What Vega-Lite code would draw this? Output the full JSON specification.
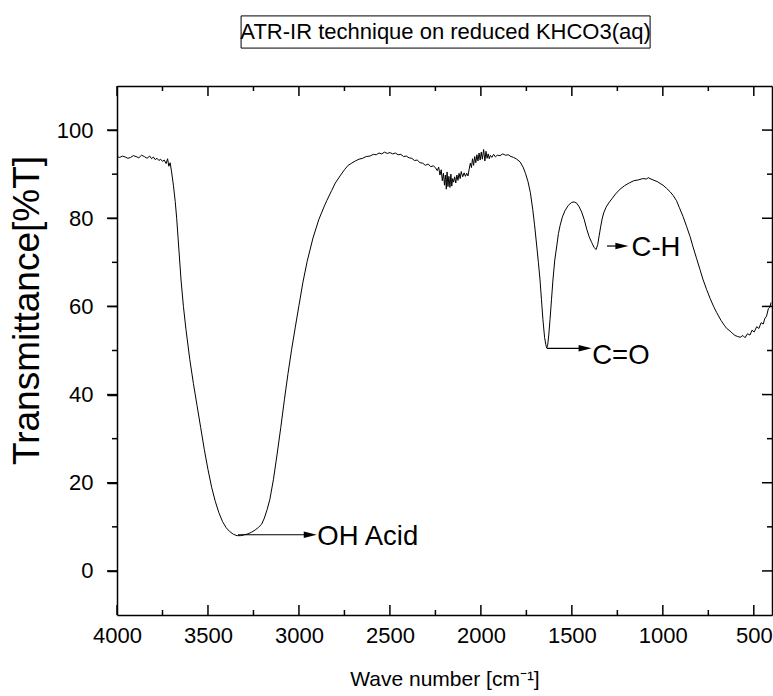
{
  "$schema": "https://vega.github.io/schema/vega-lite/v6.json",
  "width": 655,
  "height": 529,
  "autosize": {"type": "none"},
  "padding": {"left": 117, "top": 86, "right": 1, "bottom": 81},
  "background": "white",
  "config": {
    "font": "Liberation Sans",
    "view": {"stroke": null},
    "axis": {
      "grid": false,
      "domainColor": "black",
      "domainWidth": 1.5,
      "tickColor": "black",
      "tickWidth": 1.5,
      "labelColor": "black",
      "titleColor": "black",
      "titleFontWeight": "normal",
      "labelFont": "Liberation Sans",
      "titleFont": "Liberation Sans",
      "labelFlush": false,
      "labelOverlap": false
    }
  },
  "datasets": {
    "spectrum": [
      {"wavenumber": 4000, "transmittance": 94.0},
      {"wavenumber": 3985, "transmittance": 93.8},
      {"wavenumber": 3970, "transmittance": 94.1},
      {"wavenumber": 3955, "transmittance": 93.9},
      {"wavenumber": 3940, "transmittance": 93.6},
      {"wavenumber": 3925, "transmittance": 93.8},
      {"wavenumber": 3910, "transmittance": 94.2},
      {"wavenumber": 3895, "transmittance": 94.0},
      {"wavenumber": 3880, "transmittance": 93.7},
      {"wavenumber": 3865, "transmittance": 94.3},
      {"wavenumber": 3850, "transmittance": 94.0},
      {"wavenumber": 3835, "transmittance": 93.6},
      {"wavenumber": 3820, "transmittance": 94.1},
      {"wavenumber": 3810, "transmittance": 93.5},
      {"wavenumber": 3800, "transmittance": 93.9},
      {"wavenumber": 3790, "transmittance": 93.3},
      {"wavenumber": 3780, "transmittance": 93.6},
      {"wavenumber": 3770, "transmittance": 93.1},
      {"wavenumber": 3760, "transmittance": 93.4},
      {"wavenumber": 3750, "transmittance": 92.9},
      {"wavenumber": 3740, "transmittance": 93.2},
      {"wavenumber": 3730, "transmittance": 92.4},
      {"wavenumber": 3722, "transmittance": 93.5},
      {"wavenumber": 3715, "transmittance": 91.8},
      {"wavenumber": 3708, "transmittance": 92.6},
      {"wavenumber": 3700, "transmittance": 90.5},
      {"wavenumber": 3690, "transmittance": 87.5},
      {"wavenumber": 3680, "transmittance": 83.8},
      {"wavenumber": 3672, "transmittance": 80.0},
      {"wavenumber": 3660, "transmittance": 73.0},
      {"wavenumber": 3648, "transmittance": 66.0},
      {"wavenumber": 3635, "transmittance": 60.0},
      {"wavenumber": 3621, "transmittance": 54.8},
      {"wavenumber": 3600, "transmittance": 48.0},
      {"wavenumber": 3580, "transmittance": 42.5},
      {"wavenumber": 3560, "transmittance": 37.5},
      {"wavenumber": 3540, "transmittance": 32.5},
      {"wavenumber": 3520, "transmittance": 27.5},
      {"wavenumber": 3500, "transmittance": 23.0},
      {"wavenumber": 3480, "transmittance": 19.0},
      {"wavenumber": 3460, "transmittance": 15.8},
      {"wavenumber": 3440, "transmittance": 13.2},
      {"wavenumber": 3420, "transmittance": 11.2},
      {"wavenumber": 3400, "transmittance": 9.8},
      {"wavenumber": 3380, "transmittance": 8.9},
      {"wavenumber": 3360, "transmittance": 8.3},
      {"wavenumber": 3340, "transmittance": 8.0},
      {"wavenumber": 3320, "transmittance": 8.0},
      {"wavenumber": 3300, "transmittance": 8.2},
      {"wavenumber": 3280, "transmittance": 8.4},
      {"wavenumber": 3260, "transmittance": 8.8},
      {"wavenumber": 3240, "transmittance": 9.3},
      {"wavenumber": 3222, "transmittance": 9.9},
      {"wavenumber": 3205, "transmittance": 10.6},
      {"wavenumber": 3190, "transmittance": 12.0},
      {"wavenumber": 3175, "transmittance": 13.9},
      {"wavenumber": 3160, "transmittance": 16.2},
      {"wavenumber": 3140, "transmittance": 20.8},
      {"wavenumber": 3120, "transmittance": 26.5},
      {"wavenumber": 3100, "transmittance": 32.5},
      {"wavenumber": 3080, "transmittance": 38.8},
      {"wavenumber": 3060, "transmittance": 44.8},
      {"wavenumber": 3040, "transmittance": 50.3},
      {"wavenumber": 3020, "transmittance": 55.3},
      {"wavenumber": 3000, "transmittance": 60.2},
      {"wavenumber": 2978, "transmittance": 65.5},
      {"wavenumber": 2955, "transmittance": 70.2},
      {"wavenumber": 2923, "transmittance": 75.5},
      {"wavenumber": 2890, "transmittance": 79.8},
      {"wavenumber": 2860, "transmittance": 82.8},
      {"wavenumber": 2847, "transmittance": 84.0},
      {"wavenumber": 2820, "transmittance": 86.3},
      {"wavenumber": 2800, "transmittance": 88.0},
      {"wavenumber": 2774, "transmittance": 89.6},
      {"wavenumber": 2750, "transmittance": 91.0},
      {"wavenumber": 2730, "transmittance": 92.0},
      {"wavenumber": 2710, "transmittance": 92.5},
      {"wavenumber": 2690, "transmittance": 93.0},
      {"wavenumber": 2670, "transmittance": 93.4},
      {"wavenumber": 2650, "transmittance": 93.6},
      {"wavenumber": 2630, "transmittance": 94.0},
      {"wavenumber": 2610, "transmittance": 94.1},
      {"wavenumber": 2590, "transmittance": 94.5},
      {"wavenumber": 2575, "transmittance": 94.4},
      {"wavenumber": 2560, "transmittance": 94.8},
      {"wavenumber": 2545, "transmittance": 94.6},
      {"wavenumber": 2530, "transmittance": 95.0},
      {"wavenumber": 2515, "transmittance": 94.7},
      {"wavenumber": 2500, "transmittance": 94.9},
      {"wavenumber": 2485, "transmittance": 94.6},
      {"wavenumber": 2470, "transmittance": 94.8},
      {"wavenumber": 2455, "transmittance": 94.4},
      {"wavenumber": 2440, "transmittance": 94.5},
      {"wavenumber": 2425, "transmittance": 94.0},
      {"wavenumber": 2410, "transmittance": 94.1},
      {"wavenumber": 2395, "transmittance": 93.7},
      {"wavenumber": 2380, "transmittance": 93.6},
      {"wavenumber": 2365, "transmittance": 93.1},
      {"wavenumber": 2350, "transmittance": 93.2},
      {"wavenumber": 2335, "transmittance": 92.6},
      {"wavenumber": 2320, "transmittance": 92.5},
      {"wavenumber": 2305, "transmittance": 92.0},
      {"wavenumber": 2290, "transmittance": 92.3},
      {"wavenumber": 2275, "transmittance": 91.7},
      {"wavenumber": 2262, "transmittance": 91.9},
      {"wavenumber": 2250, "transmittance": 91.5},
      {"wavenumber": 2240, "transmittance": 90.8},
      {"wavenumber": 2232, "transmittance": 91.6},
      {"wavenumber": 2225, "transmittance": 89.8},
      {"wavenumber": 2218, "transmittance": 91.0},
      {"wavenumber": 2212, "transmittance": 88.5},
      {"wavenumber": 2206, "transmittance": 90.2},
      {"wavenumber": 2200, "transmittance": 87.5},
      {"wavenumber": 2195, "transmittance": 89.8},
      {"wavenumber": 2190, "transmittance": 86.6},
      {"wavenumber": 2186, "transmittance": 90.5},
      {"wavenumber": 2181, "transmittance": 87.2},
      {"wavenumber": 2176, "transmittance": 89.5},
      {"wavenumber": 2170, "transmittance": 87.0},
      {"wavenumber": 2165, "transmittance": 90.0},
      {"wavenumber": 2160, "transmittance": 87.3},
      {"wavenumber": 2155, "transmittance": 89.0},
      {"wavenumber": 2150, "transmittance": 88.2},
      {"wavenumber": 2144, "transmittance": 89.4},
      {"wavenumber": 2138, "transmittance": 88.0},
      {"wavenumber": 2132, "transmittance": 89.8},
      {"wavenumber": 2126, "transmittance": 88.6},
      {"wavenumber": 2120, "transmittance": 90.2},
      {"wavenumber": 2114, "transmittance": 89.0},
      {"wavenumber": 2108, "transmittance": 90.6},
      {"wavenumber": 2100, "transmittance": 89.4},
      {"wavenumber": 2092, "transmittance": 90.3},
      {"wavenumber": 2085, "transmittance": 89.5},
      {"wavenumber": 2078, "transmittance": 90.2},
      {"wavenumber": 2071, "transmittance": 89.6},
      {"wavenumber": 2065, "transmittance": 91.0},
      {"wavenumber": 2058, "transmittance": 92.5},
      {"wavenumber": 2052, "transmittance": 91.5},
      {"wavenumber": 2046, "transmittance": 93.5},
      {"wavenumber": 2040, "transmittance": 92.0},
      {"wavenumber": 2034, "transmittance": 94.0},
      {"wavenumber": 2028, "transmittance": 92.6},
      {"wavenumber": 2022, "transmittance": 94.4},
      {"wavenumber": 2016, "transmittance": 93.0},
      {"wavenumber": 2010, "transmittance": 94.8},
      {"wavenumber": 2004, "transmittance": 93.2},
      {"wavenumber": 1998, "transmittance": 95.0},
      {"wavenumber": 1992, "transmittance": 93.4},
      {"wavenumber": 1985, "transmittance": 95.6},
      {"wavenumber": 1978, "transmittance": 93.0},
      {"wavenumber": 1972, "transmittance": 95.2},
      {"wavenumber": 1966, "transmittance": 93.6},
      {"wavenumber": 1960, "transmittance": 94.6},
      {"wavenumber": 1954, "transmittance": 93.5},
      {"wavenumber": 1948, "transmittance": 94.3},
      {"wavenumber": 1940, "transmittance": 93.8},
      {"wavenumber": 1930, "transmittance": 94.5},
      {"wavenumber": 1920, "transmittance": 93.9},
      {"wavenumber": 1910, "transmittance": 94.3},
      {"wavenumber": 1895, "transmittance": 94.2},
      {"wavenumber": 1880, "transmittance": 94.6},
      {"wavenumber": 1865, "transmittance": 94.3},
      {"wavenumber": 1850, "transmittance": 94.4},
      {"wavenumber": 1835, "transmittance": 94.0},
      {"wavenumber": 1820, "transmittance": 93.8},
      {"wavenumber": 1803, "transmittance": 93.4},
      {"wavenumber": 1785, "transmittance": 92.8},
      {"wavenumber": 1768, "transmittance": 91.6},
      {"wavenumber": 1755, "transmittance": 90.2},
      {"wavenumber": 1741, "transmittance": 88.3},
      {"wavenumber": 1728, "transmittance": 85.8},
      {"wavenumber": 1715, "transmittance": 82.0},
      {"wavenumber": 1705, "transmittance": 78.5},
      {"wavenumber": 1693, "transmittance": 73.7},
      {"wavenumber": 1684, "transmittance": 70.0},
      {"wavenumber": 1675, "transmittance": 66.0},
      {"wavenumber": 1667, "transmittance": 61.5},
      {"wavenumber": 1659, "transmittance": 57.0},
      {"wavenumber": 1650, "transmittance": 53.0},
      {"wavenumber": 1643, "transmittance": 51.3},
      {"wavenumber": 1638, "transmittance": 50.6},
      {"wavenumber": 1633, "transmittance": 51.2},
      {"wavenumber": 1627, "transmittance": 53.5},
      {"wavenumber": 1620, "transmittance": 57.0},
      {"wavenumber": 1612, "transmittance": 61.5},
      {"wavenumber": 1604, "transmittance": 66.0},
      {"wavenumber": 1594, "transmittance": 70.5},
      {"wavenumber": 1583, "transmittance": 73.7},
      {"wavenumber": 1574, "transmittance": 76.5},
      {"wavenumber": 1565, "transmittance": 78.3},
      {"wavenumber": 1552, "transmittance": 80.3},
      {"wavenumber": 1538, "transmittance": 81.7},
      {"wavenumber": 1520, "transmittance": 82.9},
      {"wavenumber": 1501, "transmittance": 83.6},
      {"wavenumber": 1487, "transmittance": 83.7},
      {"wavenumber": 1473, "transmittance": 83.4},
      {"wavenumber": 1460, "transmittance": 82.6},
      {"wavenumber": 1446, "transmittance": 81.4},
      {"wavenumber": 1432, "transmittance": 79.7},
      {"wavenumber": 1418, "transmittance": 77.5},
      {"wavenumber": 1405, "transmittance": 75.8},
      {"wavenumber": 1391, "transmittance": 74.5},
      {"wavenumber": 1378, "transmittance": 73.4},
      {"wavenumber": 1367, "transmittance": 72.9},
      {"wavenumber": 1358, "transmittance": 74.0},
      {"wavenumber": 1350, "transmittance": 76.0},
      {"wavenumber": 1342, "transmittance": 78.0},
      {"wavenumber": 1334, "transmittance": 79.8},
      {"wavenumber": 1325, "transmittance": 81.2},
      {"wavenumber": 1312, "transmittance": 82.5},
      {"wavenumber": 1297, "transmittance": 83.5},
      {"wavenumber": 1280, "transmittance": 84.4},
      {"wavenumber": 1260, "transmittance": 85.5},
      {"wavenumber": 1235, "transmittance": 86.6},
      {"wavenumber": 1210, "transmittance": 87.4},
      {"wavenumber": 1185, "transmittance": 88.0},
      {"wavenumber": 1160, "transmittance": 88.5},
      {"wavenumber": 1135, "transmittance": 88.7},
      {"wavenumber": 1110, "transmittance": 89.0},
      {"wavenumber": 1090, "transmittance": 88.9},
      {"wavenumber": 1080, "transmittance": 89.2},
      {"wavenumber": 1065, "transmittance": 88.9},
      {"wavenumber": 1054, "transmittance": 88.7},
      {"wavenumber": 1030, "transmittance": 88.3},
      {"wavenumber": 1015, "transmittance": 87.9},
      {"wavenumber": 999, "transmittance": 87.5},
      {"wavenumber": 980, "transmittance": 86.8},
      {"wavenumber": 960, "transmittance": 86.0},
      {"wavenumber": 944, "transmittance": 85.2},
      {"wavenumber": 925, "transmittance": 84.0},
      {"wavenumber": 910, "transmittance": 82.5},
      {"wavenumber": 889, "transmittance": 80.4},
      {"wavenumber": 870, "transmittance": 78.2},
      {"wavenumber": 850, "transmittance": 75.8},
      {"wavenumber": 834, "transmittance": 73.5},
      {"wavenumber": 814, "transmittance": 70.8},
      {"wavenumber": 796, "transmittance": 68.4},
      {"wavenumber": 780, "transmittance": 66.2},
      {"wavenumber": 759, "transmittance": 63.8},
      {"wavenumber": 740, "transmittance": 61.8},
      {"wavenumber": 720, "transmittance": 59.9},
      {"wavenumber": 704, "transmittance": 58.6},
      {"wavenumber": 680, "transmittance": 56.8},
      {"wavenumber": 660, "transmittance": 55.6},
      {"wavenumber": 649, "transmittance": 55.0},
      {"wavenumber": 630, "transmittance": 54.4},
      {"wavenumber": 615, "transmittance": 53.8},
      {"wavenumber": 603, "transmittance": 53.4},
      {"wavenumber": 590, "transmittance": 53.2},
      {"wavenumber": 575, "transmittance": 53.0},
      {"wavenumber": 560, "transmittance": 53.4},
      {"wavenumber": 548, "transmittance": 52.9},
      {"wavenumber": 535, "transmittance": 53.8},
      {"wavenumber": 521, "transmittance": 53.5},
      {"wavenumber": 510, "transmittance": 54.6},
      {"wavenumber": 498, "transmittance": 54.2},
      {"wavenumber": 484, "transmittance": 55.4},
      {"wavenumber": 472, "transmittance": 55.0},
      {"wavenumber": 460, "transmittance": 56.3},
      {"wavenumber": 448, "transmittance": 56.0},
      {"wavenumber": 440, "transmittance": 57.2},
      {"wavenumber": 430, "transmittance": 57.8},
      {"wavenumber": 420, "transmittance": 59.5},
      {"wavenumber": 412, "transmittance": 59.8},
      {"wavenumber": 405, "transmittance": 60.9}
    ],
    "xMajorTicks": [
      {"wavenumber": 4000}, {"wavenumber": 3500}, {"wavenumber": 3000}, {"wavenumber": 2500},
      {"wavenumber": 2000}, {"wavenumber": 1500}, {"wavenumber": 1000}, {"wavenumber": 500}
    ],
    "xMinorTicks": [
      {"wavenumber": 3750}, {"wavenumber": 3250}, {"wavenumber": 2750}, {"wavenumber": 2250},
      {"wavenumber": 1750}, {"wavenumber": 1250}, {"wavenumber": 750}
    ],
    "yMajorTicks": [
      {"transmittance": 0}, {"transmittance": 20}, {"transmittance": 40},
      {"transmittance": 60}, {"transmittance": 80}, {"transmittance": 100}
    ],
    "yMinorTicks": [
      {"transmittance": 10}, {"transmittance": 30}, {"transmittance": 50},
      {"transmittance": 70}, {"transmittance": 90}
    ],
    "arrows": [
      {"band": "OH Acid", "from": 3335, "to": 2935, "level": 8.2},
      {"band": "C=O", "from": 1638, "to": 1427, "level": 50.5},
      {"band": "C-H", "from": 1307, "to": 1225, "level": 73.7}
    ],
    "heads": [
      {"band": "OH Acid", "wavenumber": 2938, "level": 8.2},
      {"band": "C=O", "wavenumber": 1427, "level": 50.5},
      {"band": "C-H", "wavenumber": 1225, "level": 73.7}
    ],
    "labels": [
      {"band": "OH Acid", "wavenumber": 2899, "level": 7.6},
      {"band": "C=O", "wavenumber": 1388, "level": 48.8},
      {"band": "C-H", "wavenumber": 1172, "level": 73.3}
    ],
    "heading": [
      {"text": "ATR-IR technique on reduced KHCO3(aq)"}
    ]
  },
  "layer": [
    {
      "data": {"name": "spectrum"},
      "mark": {"type": "line", "color": "black", "strokeWidth": 1},
      "encoding": {
        "x": {
          "field": "wavenumber",
          "type": "quantitative",
          "scale": {"domain": [400, 4000], "reverse": true, "nice": false, "zero": false},
          "axis": {
            "orient": "bottom",
            "values": [4000, 3500, 3000, 2500, 2000, 1500, 1000, 500],
            "format": "d",
            "ticks": false,
            "labelPadding": 10,
            "labelFontSize": 22,
            "title": "Wave number [cm⁻¹]",
            "titleFontSize": 21,
            "titlePadding": 22
          }
        },
        "y": {
          "field": "transmittance",
          "type": "quantitative",
          "scale": {"domain": [-10, 110], "nice": false, "zero": false},
          "axis": {
            "orient": "left",
            "values": [0, 20, 40, 60, 80, 100],
            "format": "d",
            "ticks": true,
            "tickSize": 10,
            "labelPadding": 14,
            "labelFontSize": 22,
            "title": "Transmittance[%T]",
            "titleFontSize": 37,
            "titleX": -71,
            "titleY": 224
          }
        }
      }
    },
    {
      "data": {"name": "arrows"},
      "mark": {"type": "rule", "color": "black", "strokeWidth": 1.2},
      "encoding": {
        "x": {
          "field": "from",
          "type": "quantitative",
          "axis": {"orient": "top", "labels": false, "ticks": false, "title": null}
        },
        "x2": {"field": "to"},
        "y": {
          "field": "level",
          "type": "quantitative",
          "axis": {"orient": "right", "labels": false, "ticks": false, "title": null}
        }
      }
    },
    {
      "data": {"name": "xMajorTicks"},
      "mark": {"type": "tick", "orient": "vertical", "color": "black", "opacity": 1, "size": 10, "thickness": 1.5, "yOffset": -5},
      "encoding": {
        "x": {"field": "wavenumber", "type": "quantitative", "axis": null},
        "y": {"datum": -10, "type": "quantitative", "axis": null}
      }
    },
    {
      "data": {"name": "xMinorTicks"},
      "mark": {"type": "tick", "orient": "vertical", "color": "black", "opacity": 1, "size": 5, "thickness": 1.5, "yOffset": -2.5},
      "encoding": {
        "x": {"field": "wavenumber", "type": "quantitative", "axis": null},
        "y": {"datum": -10, "type": "quantitative", "axis": null}
      }
    },
    {
      "data": {"name": "xMajorTicks"},
      "mark": {"type": "tick", "orient": "vertical", "color": "black", "opacity": 1, "size": 10, "thickness": 1.5, "yOffset": 5},
      "encoding": {
        "x": {"field": "wavenumber", "type": "quantitative", "axis": null},
        "y": {"datum": 110, "type": "quantitative", "axis": null}
      }
    },
    {
      "data": {"name": "xMinorTicks"},
      "mark": {"type": "tick", "orient": "vertical", "color": "black", "opacity": 1, "size": 5, "thickness": 1.5, "yOffset": 2.5},
      "encoding": {
        "x": {"field": "wavenumber", "type": "quantitative", "axis": null},
        "y": {"datum": 110, "type": "quantitative", "axis": null}
      }
    },
    {
      "data": {"name": "yMajorTicks"},
      "mark": {"type": "tick", "orient": "horizontal", "color": "black", "opacity": 1, "size": 10, "thickness": 1.5, "xOffset": -5},
      "encoding": {
        "y": {"field": "transmittance", "type": "quantitative", "axis": null},
        "x": {"datum": 4000, "type": "quantitative", "axis": null}
      }
    },
    {
      "data": {"name": "yMinorTicks"},
      "mark": {"type": "tick", "orient": "horizontal", "color": "black", "opacity": 1, "size": 5, "thickness": 1.5, "xOffset": -2.5},
      "encoding": {
        "y": {"field": "transmittance", "type": "quantitative", "axis": null},
        "x": {"datum": 4000, "type": "quantitative", "axis": null}
      }
    },
    {
      "data": {"name": "yMajorTicks"},
      "mark": {"type": "tick", "orient": "horizontal", "color": "black", "opacity": 1, "size": 10, "thickness": 1.5, "xOffset": -5},
      "encoding": {
        "y": {"field": "transmittance", "type": "quantitative", "axis": null},
        "x": {"datum": 400, "type": "quantitative", "axis": null}
      }
    },
    {
      "data": {"name": "yMinorTicks"},
      "mark": {"type": "tick", "orient": "horizontal", "color": "black", "opacity": 1, "size": 5, "thickness": 1.5, "xOffset": -2.5},
      "encoding": {
        "y": {"field": "transmittance", "type": "quantitative", "axis": null},
        "x": {"datum": 400, "type": "quantitative", "axis": null}
      }
    },
    {
      "data": {"name": "heads"},
      "mark": {"type": "point", "shape": "M-1,-0.5L1,0L-1,0.5Z", "filled": true, "color": "black", "opacity": 1, "size": 169},
      "encoding": {
        "x": {"field": "wavenumber", "type": "quantitative", "axis": null},
        "y": {"field": "level", "type": "quantitative", "axis": null}
      }
    },
    {
      "data": {"name": "labels"},
      "mark": {"type": "text", "align": "left", "baseline": "middle", "fontSize": 27.5, "color": "black"},
      "encoding": {
        "x": {"field": "wavenumber", "type": "quantitative", "axis": null},
        "y": {"field": "level", "type": "quantitative", "axis": null},
        "text": {"field": "band"}
      }
    },
    {
      "data": {"name": "heading"},
      "mark": {"type": "rect", "fill": "white", "stroke": "black", "strokeWidth": 1},
      "encoding": {
        "x": {"datum": 3318, "type": "quantitative", "axis": null},
        "x2": {"datum": 1070},
        "y": {"datum": 125.9, "type": "quantitative", "axis": null},
        "y2": {"datum": 118.6}
      }
    },
    {
      "data": {"name": "heading"},
      "mark": {"type": "text", "align": "center", "baseline": "middle", "fontSize": 22, "color": "black"},
      "encoding": {
        "x": {"datum": 2194, "type": "quantitative", "axis": null},
        "y": {"datum": 122.2, "type": "quantitative", "axis": null},
        "text": {"field": "text"}
      }
    }
  ],
  "resolve": {"axis": {"x": "independent", "y": "independent"}}
}
